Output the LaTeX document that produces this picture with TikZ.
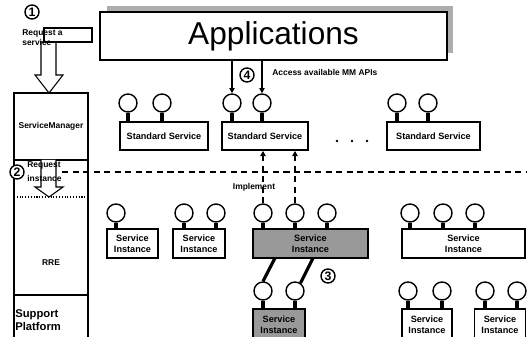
\documentclass[tikz,border=0pt]{standalone}
\usepackage{fontspec}
\setmainfont{Liberation Sans}
\usetikzlibrary{arrows.meta}

\tikzset{
  box/.style={draw, line width=0.9pt, fill=white, minimum height=0.56cm, inner sep=1pt, align=center, font=\bfseries\fontsize{5.2}{6}\selectfont},
  shaded/.style={fill=black!40},
  port/.style={draw, circle, line width=0.8pt, minimum size=0.36cm, inner sep=0pt, fill=white},
  stem/.style={line width=1.8pt},
  tag/.style={draw, circle, line width=0.8pt, minimum size=0.28cm, inner sep=0pt, fill=white, font=\bfseries\fontsize{7}{7}\selectfont},
  lbl/.style={inner sep=0pt, align=left, font=\bfseries\fontsize{4.8}{5.6}\selectfont},
  hollow/.style={line width=0.6pt, fill=white},
  link/.style={line width=1.8pt},
  api/.style={line width=0.8pt, -{Triangle[length=3pt,width=3pt]}},
  impl/.style={line width=0.8pt, dash pattern=on 3.5pt off 2.5pt, -{Triangle[length=3pt,width=3pt]}},
}

\begin{document}
\begin{tikzpicture}[x=0.02cm, y=-0.02cm]
  \clip (0,0) rectangle (527,337);

  % Drawing the layer column
  \draw[line width=0.8pt] (14,345) -- (14,93) -- (88,93) -- (88,345);
  \draw[line width=0.8pt] (14,160) -- (88,160);
  \draw[line width=0.6pt, densely dotted] (14,197) -- (88,197);
  \draw[line width=0.8pt] (14,295) -- (88,295);
  \node[lbl] (smtxt) at (51,126) {ServiceManager};
  \node[lbl] (rretxt) at (51,263) {RRE};
  \node[lbl, anchor=west, font=\bfseries\fontsize{6.4}{7.6}\selectfont] (sptxt) at (15,320) {Support\\Platform};

  % Drawing step 1: request a service
  \draw[hollow] (41,42) -- (41,75) -- (35,75) -- (49,93) -- (63,75) -- (56,75) -- (56,42) -- cycle;
  \draw[line width=0.6pt] (44,28) rectangle (92,42);
  \node[tag] (t1) at (32,12) {1};
  \node[lbl, anchor=west] (reqsvc) at (22,38) {Request a\\service};

  % Drawing step 2: request instance
  \draw[hollow] (41,160) -- (41,187) -- (35,187) -- (49,197) -- (63,187) -- (56,187) -- (56,160);
  \node[tag] (t2) at (17,172) {2};
  \node[lbl, anchor=west, font=\bfseries\fontsize{4.8}{8}\selectfont] (reqinst) at (27,172) {Request\\instance};
  \draw[line width=0.8pt, dash pattern=on 3.5pt off 2.5pt] (62,172) -- (527,172);

  % Drawing the applications box
  \fill[black!32] (107,6) rectangle (453,53);
  \node[draw, fill=white, line width=0.9pt, minimum width=6.94cm, minimum height=0.96cm, inner sep=0pt, font=\fontsize{18}{18}\selectfont] (apps) at (273.5,36) {Applications};

  % Drawing standard services
  \node[box, minimum width=1.76cm] (ss1) at (164,136) {Standard Service};
  \node[box, minimum width=1.72cm] (ss2) at (265,136) {Standard Service};
  \node[box, minimum width=1.86cm] (ss3) at (433.5,136) {Standard Service};
  \node[port] (ss1a) at (128,103) {};
  \node[port] (ss1b) at (162,103) {};
  \node[port] (ss2a) at (232,103) {};
  \node[port] (ss2b) at (262,103) {};
  \node[port] (ss3a) at (397,103) {};
  \node[port] (ss3b) at (428,103) {};
  \draw[stem] (ss1a.south) -- (ss1a.south |- ss1.north);
  \draw[stem] (ss1b.south) -- (ss1b.south |- ss1.north);
  \draw[stem] (ss2a.south) -- (ss2a.south |- ss2.north);
  \draw[stem] (ss2b.south) -- (ss2b.south |- ss2.north);
  \draw[stem] (ss3a.south) -- (ss3a.south |- ss3.north);
  \draw[stem] (ss3b.south) -- (ss3b.south |- ss3.north);
  \fill (337,141) circle (0.75pt);
  \fill (352,141) circle (0.75pt);
  \fill (367,141) circle (0.75pt);

  % Drawing step 4: access APIs
  \draw[api] (ss2a.north |- apps.south) -- (ss2a.north);
  \draw[api] (ss2b.north |- apps.south) -- (ss2b.north);
  \node[tag] (t4) at (247,75) {4};
  \node[lbl, anchor=west] (apitxt) at (272,72) {Access available MM APIs};

  % Drawing service instances, first row
  \node[box, minimum width=1.02cm, minimum height=0.58cm] (si1) at (132.5,243.5) {Service\\Instance};
  \node[box, minimum width=1.04cm, minimum height=0.58cm] (si2) at (199,243.5) {Service\\Instance};
  \node[box, shaded, minimum width=2.3cm, minimum height=0.58cm] (si3) at (310.5,243.5) {Service\\Instance};
  \node[box, minimum width=2.46cm, minimum height=0.58cm] (si4) at (463.5,243.5) {Service\\Instance};
  \node[port] (si1a) at (116,213) {};
  \node[port] (si2a) at (184,213) {};
  \node[port] (si2b) at (216,213) {};
  \node[port] (si3a) at (263,213) {};
  \node[port] (si3b) at (295,213) {};
  \node[port] (si3c) at (327,213) {};
  \node[port] (si4a) at (410,213) {};
  \node[port] (si4b) at (443,213) {};
  \node[port] (si4c) at (475,213) {};
  \draw[stem] (si1a.south) -- (si1a.south |- si1.north);
  \draw[stem] (si2a.south) -- (si2a.south |- si2.north);
  \draw[stem] (si2b.south) -- (si2b.south |- si2.north);
  \draw[stem] (si3a.south) -- (si3a.south |- si3.north);
  \draw[stem] (si3b.south) -- (si3b.south |- si3.north);
  \draw[stem] (si3c.south) -- (si3c.south |- si3.north);
  \draw[stem] (si4a.south) -- (si4a.south |- si4.north);
  \draw[stem] (si4b.south) -- (si4b.south |- si4.north);
  \draw[stem] (si4c.south) -- (si4c.south |- si4.north);

  % Drawing implement arrows
  \draw[impl] (si3a.north) -- (si3a.north |- ss2.south);
  \draw[impl] (si3b.north) -- (si3b.north |- ss2.south);
  \node[lbl] (impltxt) at (254,187) {Implement};

  % Drawing service instances, second row
  \node[box, shaded, minimum width=1.04cm, minimum height=0.64cm] (si5) at (279,325) {Service\\Instance};
  \node[box, minimum width=1.0cm, minimum height=0.64cm] (si6) at (427,325) {Service\\Instance};
  \node[box, minimum width=1.02cm, minimum height=0.64cm] (si7) at (500,325) {Service\\Instance};
  \node[port] (si5a) at (263,291) {};
  \node[port] (si5b) at (295,291) {};
  \node[port] (si6a) at (408,291) {};
  \node[port] (si6b) at (442,291) {};
  \node[port] (si7a) at (485,291) {};
  \node[port] (si7b) at (517,291) {};
  \draw[stem] (si5a.south) -- (si5a.south |- si5.north);
  \draw[stem] (si5b.south) -- (si5b.south |- si5.north);
  \draw[stem] (si6a.south) -- (si6a.south |- si6.north);
  \draw[stem] (si6b.south) -- (si6b.south |- si6.north);
  \draw[stem] (si7a.south) -- (si7a.south |- si7.north);
  \draw[stem] (si7b.south) -- (si7b.south |- si7.north);

  % Drawing step 3: links between instances
  \coordinate (lk1) at (275,258);
  \coordinate (lk2) at (313,258);
  \draw[link] (lk1) -- (si5a.north);
  \draw[link] (lk2) -- (si5b.55);
  \node[tag] (t3) at (328,276) {3};
\end{tikzpicture}
\end{document}
